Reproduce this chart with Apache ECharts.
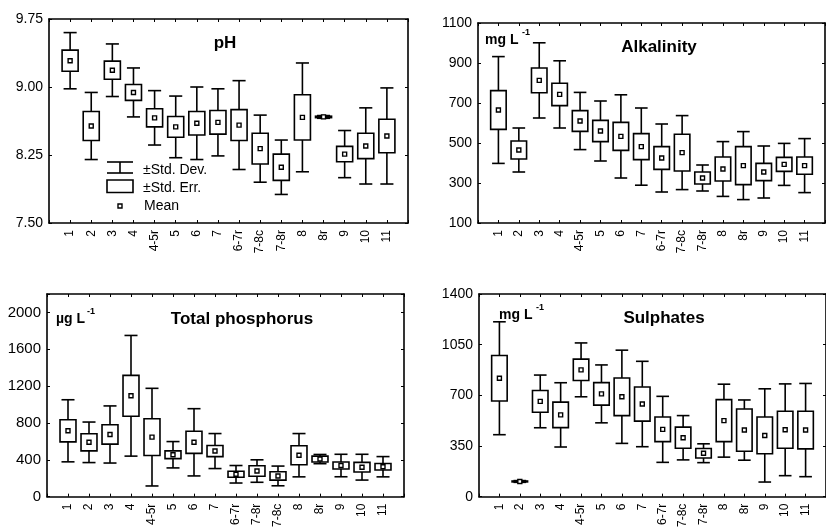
<!DOCTYPE html>
<html>
<head>
<meta charset="UTF-8">
<script src="https://cdn.jsdelivr.net/npm/echarts@6/dist/echarts.min.js"></script>
<title></title>
<style>html,body{margin:0;padding:0;background:#fff;}</style>
</head>
<body>
<div id="main" style="width:826px;height:530px;"></div>
<script type="text/javascript">
// site categories (total phosphorus panel lists 7-8r before 7-8c)
var cats = ['1', '2', '3', '4', '4-5r', '5', '6', '7', '6-7r', '7-8c', '7-8r', '8', '8r', '9', '10', '11'];
var catsTP = ['1', '2', '3', '4', '4-5r', '5', '6', '7', '6-7r', '7-8r', '7-8c', '8', '8r', '9', '10', '11'];

// pH
var phMean = [9.29, 8.57, 9.185, 8.94, 8.66, 8.56, 8.6, 8.61, 8.58, 8.32, 8.115, 8.665, 8.67, 8.26, 8.35, 8.46];
var phSE = [0.117, 0.16, 0.1, 0.088, 0.1, 0.115, 0.13, 0.13, 0.17, 0.17, 0.145, 0.25, 0.008, 0.085, 0.14, 0.185];
var phSD = [0.31, 0.37, 0.29, 0.27, 0.3, 0.34, 0.4, 0.37, 0.49, 0.37, 0.3, 0.6, 0.015, 0.26, 0.42, 0.53];

// alkalinity, mg L-1
var alkMean = [665, 465, 813, 743, 610, 560, 533, 482, 425, 452, 325, 370, 387, 355, 393, 387];
var alkSE = [97, 45, 62, 56, 52, 53, 70, 65, 57, 92, 30, 60, 95, 43, 35, 43];
var alkSD = [267, 110, 188, 168, 143, 150, 208, 193, 170, 185, 65, 137, 170, 130, 105, 135];

// total phosphorus, ug L-1
var tpMean = [715, 590, 675, 1095, 646, 455, 590, 495, 243, 278, 225, 450, 408, 338, 320, 325];
var tpSE = [120, 93, 105, 222, 200, 42, 120, 60, 33, 57, 45, 103, 32, 38, 52, 35];
var tpSD = [337, 220, 310, 655, 530, 143, 365, 190, 95, 122, 107, 235, 50, 122, 140, 110];

// sulphates, mg L-1
var sulMean = [818, 105, 658, 565, 876, 710, 690, 640, 465, 407, 300, 525, 460, 423, 462, 460];
var sulSE = [157, 3, 75, 88, 74, 78, 130, 118, 85, 73, 33, 145, 146, 127, 128, 130];
var sulSD = [390, 6, 182, 222, 186, 200, 322, 295, 228, 153, 65, 252, 208, 322, 317, 322];

var FONT = 'Liberation Sans';
var myChart = echarts.init(document.getElementById('main'));

function toData(mean, se, sd) {
    var out = [];
    for (var i = 0; i < mean.length; i++) {
        out.push([i + 1, mean[i], se[i], sd[i]]);
    }
    return out;
}

// mean square, +-SE box, +-SD whiskers
function renderBox(params, api) {
    var x = api.value(0), m = api.value(1), se = api.value(2), sd = api.value(3);
    var band = api.size([1, 0])[0];
    var cx = api.coord([x, m])[0];
    var cy = api.coord([x, m])[1];
    var seTop = api.coord([x, m + se])[1], seBot = api.coord([x, m - se])[1];
    var sdTop = api.coord([x, m + sd])[1], sdBot = api.coord([x, m - sd])[1];
    var bw = band * 0.76 / 2, cw = band * 0.62 / 2;
    var ls = { stroke: '#000', lineWidth: 1.6, fill: null };
    return {
        type: 'group',
        children: [
            { type: 'line', shape: { x1: cx, y1: seTop, x2: cx, y2: sdTop }, style: ls },
            { type: 'line', shape: { x1: cx, y1: seBot, x2: cx, y2: sdBot }, style: ls },
            { type: 'line', shape: { x1: cx - cw, y1: sdTop, x2: cx + cw, y2: sdTop }, style: ls },
            { type: 'line', shape: { x1: cx - cw, y1: sdBot, x2: cx + cw, y2: sdBot }, style: ls },
            { type: 'rect', shape: { x: cx - bw, y: seTop, width: bw * 2, height: seBot - seTop }, style: { stroke: '#000', lineWidth: 1.6, fill: '#fff' } },
            { type: 'rect', shape: { x: cx - 2, y: cy - 2, width: 4, height: 4 }, style: { stroke: '#000', lineWidth: 1.4, fill: '#fff' } }
        ]
    };
}

var grids = [
    { left: 49, top: 19, width: 359, height: 204 },
    { left: 478, top: 23, width: 347, height: 200 },
    { left: 47, top: 294, width: 357, height: 211 },
    { left: 479, top: 294, width: 358, height: 207 }
];
var yCfg = [
    { min: 7.5, max: 9.75, interval: 0.75, size: 14, fmt: function (v) { return v.toFixed(2); } },
    { min: 100, max: 1100, interval: 200, size: 14, fmt: function (v) { return String(v); } },
    { min: 0, max: 2200, interval: 400, size: 15, fmt: function (v) { return v >= 2200 ? '' : String(v); } },
    { min: 0, max: 1400, interval: 350, size: 14, fmt: function (v) { return String(v); } }
];
var catLists = [cats, cats, catsTP, cats];

var xAxes = [], yAxes = [];
for (var g = 0; g < 4; g++) {
    (function (g) {
        var list = catLists[g];
        var base = {
            gridIndex: g, type: 'value', min: 0, max: 17, interval: 1,
            axisLine: { onZero: false, lineStyle: { color: '#000', width: 1.6 } },
            axisTick: { inside: true, length: 3, lineStyle: { color: '#000', width: 1 } },
            splitLine: { show: false }
        };
        xAxes.push(echarts.util.merge({
            position: 'bottom',
            axisLabel: {
                rotate: 90, margin: 7, color: '#000', fontFamily: FONT, fontSize: 12,
                formatter: function (v) { return list[Math.round(v) - 1] || ''; }
            }
        }, base, true));
        xAxes.push(echarts.util.merge({ position: 'top', axisLabel: { show: false } }, base, true));
        var ybase = {
            gridIndex: g, type: 'value', min: yCfg[g].min, max: yCfg[g].max, interval: yCfg[g].interval,
            axisLine: { show: true, onZero: false, lineStyle: { color: '#000', width: 1.6 } },
            axisTick: { show: true, inside: true, length: 3, lineStyle: { color: '#000', width: 1 } },
            splitLine: { show: false }
        };
        yAxes.push(echarts.util.merge({
            position: 'left',
            axisLabel: { margin: 6, color: '#000', fontFamily: FONT, fontSize: yCfg[g].size, formatter: yCfg[g].fmt }
        }, ybase, true));
        yAxes.push(echarts.util.merge({ position: 'right', axisLabel: { show: false } }, ybase, true));
    })(g);
}

var seriesData = [
    toData(phMean, phSE, phSD),
    toData(alkMean, alkSE, alkSD),
    toData(tpMean, tpSE, tpSD),
    toData(sulMean, sulSE, sulSD)
];
var series = [];
for (var s = 0; s < 4; s++) {
    series.push({
        type: 'custom', xAxisIndex: s * 2, yAxisIndex: s * 2,
        renderItem: renderBox, data: seriesData[s], animation: false, clip: false
    });
}

function txt(x, y, t, size, bold, align) {
    return {
        type: 'text', x: x, y: y,
        style: {
            text: t, fill: '#000', font: (bold ? 'bold ' : '') + size + 'px "' + FONT + '"',
            textAlign: align || 'left', textVerticalAlign: 'middle'
        }
    };
}
var lineSt = { stroke: '#000', lineWidth: 1.6 };

var graphics = [
    // panel titles
    txt(225, 43, 'pH', 17, true, 'center'),
    txt(659, 47, 'Alkalinity', 17, true, 'center'),
    txt(242, 319, 'Total phosphorus', 17, true, 'center'),
    txt(664, 318, 'Sulphates', 17, true, 'center'),
    // units
    txt(485, 40, 'mg L', 14, true), txt(522, 33, '-1', 9, true),
    txt(56, 319, '\u00b5g L', 14, true), txt(87, 312, '-1', 9, true),
    txt(499, 315, 'mg L', 14, true), txt(536, 308, '-1', 9, true),
    // legend of the pH panel
    { type: 'line', shape: { x1: 107, y1: 162, x2: 133, y2: 162 }, style: lineSt },
    { type: 'line', shape: { x1: 107, y1: 173, x2: 133, y2: 173 }, style: lineSt },
    { type: 'line', shape: { x1: 120, y1: 162, x2: 120, y2: 173 }, style: lineSt },
    txt(143, 170, '\u00b1Std. Dev.', 14, false),
    { type: 'rect', shape: { x: 107, y: 180, width: 26, height: 12.5 }, style: { stroke: '#000', lineWidth: 1.6, fill: null } },
    txt(143, 188, '\u00b1Std. Err.', 14, false),
    { type: 'rect', shape: { x: 118, y: 204, width: 4, height: 4 }, style: { stroke: '#000', lineWidth: 1.4, fill: '#fff' } },
    txt(144, 206, 'Mean', 14, false)
];

var option = {
    backgroundColor: '#fff',
    animation: false,
    grid: grids,
    xAxis: xAxes,
    yAxis: yAxes,
    series: series,
    graphic: graphics
};
myChart.setOption(option);
</script>
</body>
</html>
